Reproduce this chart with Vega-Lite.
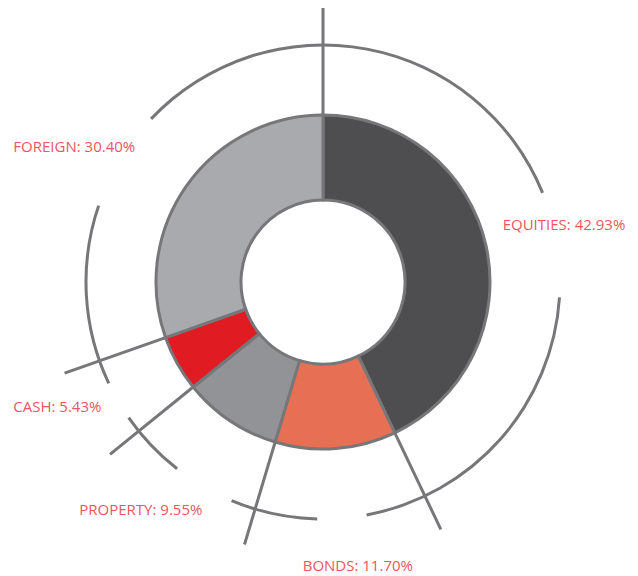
{
  "$schema": "https://vega.github.io/schema/vega-lite/v6.json",
  "width": 630,
  "height": 564,
  "autosize": {"type": "none"},
  "padding": {"left": 8, "top": 0, "right": 0, "bottom": 12},
  "background": "white",
  "config": {"view": {"stroke": null}},
  "datasets": {
    "alloc": [
      {"asset": "EQUITIES", "value": 42.93, "order": 1},
      {"asset": "BONDS", "value": 11.70, "order": 2},
      {"asset": "PROPERTY", "value": 9.55, "order": 3},
      {"asset": "CASH", "value": 5.43, "order": 4},
      {"asset": "FOREIGN", "value": 30.40, "order": 5}
    ],
    "rings": [
      {"from": -46.5, "to": 67.9},
      {"from": 93.7, "to": 169.4},
      {"from": 181.4, "to": 202.7},
      {"from": 218.0, "to": 235.1},
      {"from": 244.7, "to": 288.8}
    ],
    "labels": [
      {"label": "EQUITIES: 42.93%", "angle": 72.4, "dist": 188.5},
      {"label": "BONDS: 11.70%", "angle": 184.09, "dist": 284.7},
      {"label": "PROPERTY: 9.55%", "angle": 226.97, "dist": 333.4},
      {"label": "CASH: 5.43%", "angle": 248.1, "dist": 333.8},
      {"label": "FOREIGN: 30.40%", "angle": 293.63, "dist": 338.0}
    ]
  },
  "layer": [
    {
      "data": {"name": "alloc"},
      "transform": [
        {"stack": "value", "groupby": [], "sort": [{"field": "order", "order": "ascending"}], "as": ["v0", "v1"]}
      ],
      "mark": {"type": "arc", "radius": 274, "radius2": 167, "stroke": "#77777a", "strokeWidth": 3, "fillOpacity": 0},
      "encoding": {
        "theta": {"field": "v0", "type": "quantitative", "scale": {"domain": [0, 100.01]}},
        "theta2": {"field": "v0"}
      }
    },
    {
      "data": {"name": "alloc"},
      "transform": [
        {"stack": "value", "groupby": [], "sort": [{"field": "order", "order": "ascending"}], "as": ["v0", "v1"]}
      ],
      "mark": {"type": "arc", "radius": 167, "radius2": 82, "stroke": "#77777a", "strokeWidth": 3},
      "encoding": {
        "theta": {"field": "v0", "type": "quantitative", "scale": {"domain": [0, 100.01]}},
        "theta2": {"field": "v1"},
        "color": {
          "field": "asset",
          "type": "nominal",
          "scale": {
            "domain": ["EQUITIES", "BONDS", "PROPERTY", "CASH", "FOREIGN"],
            "range": ["#4e4e50", "#e76f54", "#929397", "#e01b22", "#a9aaae"]
          },
          "legend": null
        }
      }
    },
    {
      "data": {"name": "rings"},
      "mark": {"type": "arc", "radius": 238.5, "radius2": 235.5, "fill": "#77777a"},
      "encoding": {
        "theta": {"field": "from", "type": "quantitative", "scale": {"domain": [0, 360]}},
        "theta2": {"field": "to"}
      }
    },
    {
      "data": {"name": "labels"},
      "mark": {"type": "text", "align": "left", "baseline": "middle", "font": "Open Sans", "fontSize": 15, "color": "#ec5562"},
      "encoding": {
        "theta": {"field": "angle", "type": "quantitative", "scale": {"domain": [0, 360]}},
        "radius": {"field": "dist", "type": "quantitative", "scale": {"type": "linear", "domain": [0, 400], "range": [0, 400]}},
        "text": {"field": "label"}
      }
    }
  ],
  "resolve": {"scale": {"theta": "independent", "radius": "independent"}}
}
